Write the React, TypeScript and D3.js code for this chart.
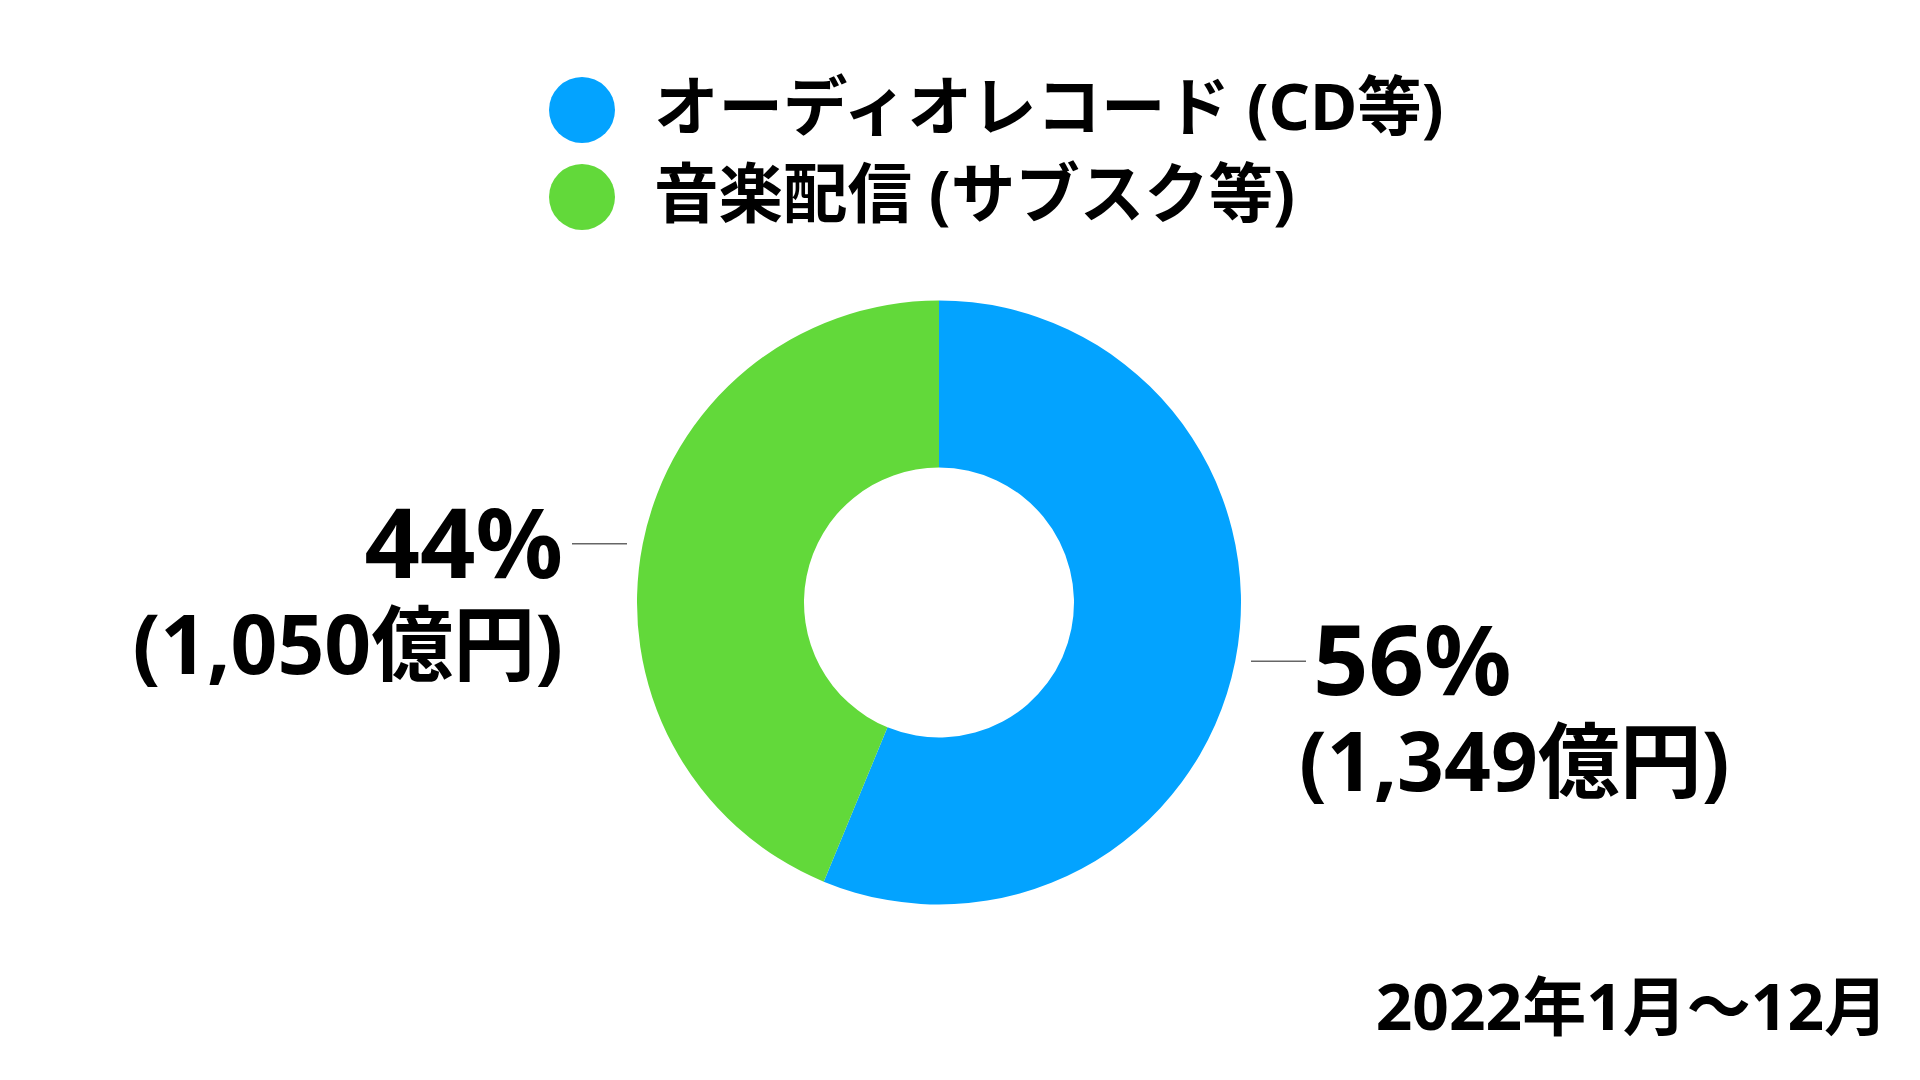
import React from "react";
import * as d3 from "d3";

const categories = ["オーディオレコード (CD等)", "音楽配信 (サブスク等)"];
const values = [1349, 1050];
const percentLabels = ["56%", "44%"];
const amountLabels = ["(1,349億円)", "(1,050億円)"];
const colors = ["#03A3FF", "#62D93A"];
const periodLabel = "2022年1月〜12月";

const W = 1920;
const H = 1080;
const FONT = "'Noto Sans', 'Noto Sans CJK JP', sans-serif";

export default function App() {
  const cx = 939;
  const cy = 602.5;
  const outerR = 302;
  const innerR = 135;

  const pie = d3
    .pie<number>()
    .sort(null)
    .startAngle(0)
    .endAngle(2 * Math.PI)
    .value((d) => d);
  const arcs = pie(values);
  const arc = d3.arc<d3.PieArcDatum<number>>().innerRadius(innerR).outerRadius(outerR);

  return (
    <svg
      width={W}
      height={H}
      style={{ position: "absolute", left: 0, top: 0, background: "#fff" }}
      fontFamily={FONT}
    >
      <rect x={0} y={0} width={W} height={H} fill="#fff" />
      {/* legend */}
      {categories.map((c, i) => (
        <g key={c} transform={`translate(582, ${110 + i * 87})`}>
          <circle r={33} fill={colors[i]} />
          <text x={72} y={20} fontSize={64.5} fontWeight={700} fill="#000">
            {c}
          </text>
        </g>
      ))}
      {/* donut */}
      <g transform={`translate(${cx}, ${cy})`}>
        {arcs.map((a, i) => (
          <path key={i} d={arc(a) || ""} fill={colors[i]} />
        ))}
        {arcs.map((a, i) => {
          const mid = (a.startAngle + a.endAngle) / 2;
          const y = -Math.cos(mid) * outerR;
          const side = Math.sin(mid) >= 0 ? 1 : -1;
          const x1 = side * (outerR + 10);
          const x2 = side * (outerR + 65);
          const tx = side * (outerR + 76);
          return (
            <g key={"l" + i}>
              <line x1={x1} x2={x2} y1={y} y2={y} stroke="#666" strokeWidth={1.5} />
              <text
                x={side > 0 ? tx - 4 : tx + 2}
                y={y + 34}
                fontSize={97}
                fontWeight={700}
                fill="#000"
                textAnchor={side > 0 ? "start" : "end"}
              >
                {percentLabels[i]}
              </text>
              <text
                x={side > 0 ? tx - 18 : tx + 2}
                y={y + 130}
                fontSize={82}
                fontWeight={700}
                fill="#000"
                textAnchor={side > 0 ? "start" : "end"}
              >
                {amountLabels[i]}
              </text>
            </g>
          );
        })}
      </g>
      <text x={1888} y={1030} fontSize={64} fontWeight={700} fill="#000" textAnchor="end">
        {periodLabel}
      </text>
    </svg>
  );
}
